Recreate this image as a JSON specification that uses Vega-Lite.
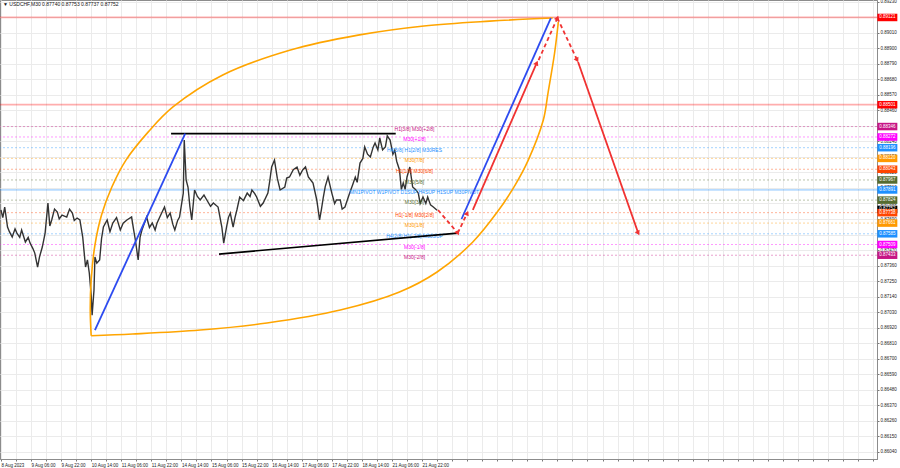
{
  "$schema": "https://vega.github.io/schema/vega-lite/v6.json",
  "width": 877,
  "height": 459,
  "autosize": "none",
  "padding": {"left": 0, "top": 0, "right": 23, "bottom": 9},
  "background": "white",
  "config": {"font": "Liberation Sans", "view": {"stroke": "#8c8c8c", "strokeWidth": 1}, "axis": {"labelOverlap": false, "labelFlush": false, "labelBound": false}},
  "title": {"text": "▼ USDCHF,M30  0.87740 0.87753 0.87737 0.87752", "anchor": "start", "frame": "group", "orient": "top", "offset": -8, "dx": 3, "fontSize": 5, "fontWeight": "normal", "color": "#111"},
  "datasets": {
    "levels": [
      {"price": 0.89120, "tag": "0.89121", "grp": "SR", "name": ""},
      {"price": 0.88501, "tag": "0.88501", "grp": "SR", "name": ""},
      {"price": 0.88346, "tag": "0.88346", "grp": "R2", "name": "H1[3/8] M30[+2/8]"},
      {"price": 0.88272, "tag": "0.88272", "grp": "R1", "name": "M30[+1/8]"},
      {"price": 0.88196, "tag": "0.88196", "grp": "RES", "name": "H4[3/8] H1[2/8] M30RES"},
      {"price": 0.88120, "tag": "0.88120", "grp": "L7", "name": "M30[7/8]"},
      {"price": 0.88043, "tag": "0.88043", "grp": "L6", "name": "H1[1/8] M30[6/8]"},
      {"price": 0.87967, "tag": "0.87967", "grp": "L5", "name": "M30[5/8]"},
      {"price": 0.87896, "tag": "0.87891", "grp": "PIV", "name": "MN1PIVOT W1PIVOT D1SUP H4SUP H1SUP M30PIVOT"},
      {"price": 0.87824, "tag": "0.87824", "grp": "L3", "name": "M30[3/8]"},
      {"price": 0.87758, "tag": "0.87752", "grp": "PRICE", "name": ""},
      {"price": 0.87735, "tag": "0.87738", "grp": "L2", "name": "H1[-1/8] M30[2/8]"},
      {"price": 0.87661, "tag": "0.87661", "grp": "L1", "name": "M30[1/8]"},
      {"price": 0.87585, "tag": "0.87585", "grp": "SUP", "name": "H4[2/8] H1[-2/8] M30SUP"},
      {"price": 0.87509, "tag": "0.87509", "grp": "S1", "name": "M30[-1/8]"},
      {"price": 0.87433, "tag": "0.87433", "grp": "S2", "name": "M30[-2/8]"}
    ],
    "quotes": [
      {"i": 0, "p": 0.87754}, {"i": 2, "p": 0.87700}, {"i": 4, "p": 0.87775}, {"i": 7, "p": 0.87633}, {"i": 9, "p": 0.87600}, {"i": 12, "p": 0.87562},
      {"i": 15, "p": 0.87620}, {"i": 17, "p": 0.87590}, {"i": 20, "p": 0.87560}, {"i": 22, "p": 0.87612}, {"i": 26, "p": 0.87527}, {"i": 29, "p": 0.87560}, {"i": 31, "p": 0.87519},
      {"i": 34, "p": 0.87480}, {"i": 36, "p": 0.87448}, {"i": 39, "p": 0.87349}, {"i": 41, "p": 0.87420}, {"i": 44, "p": 0.87491}, {"i": 47, "p": 0.87590},
      {"i": 50, "p": 0.87803}, {"i": 52, "p": 0.87640}, {"i": 54, "p": 0.87683}, {"i": 57, "p": 0.87760}, {"i": 60, "p": 0.87739}, {"i": 62, "p": 0.87690}, {"i": 65, "p": 0.87718},
      {"i": 70, "p": 0.87704}, {"i": 73, "p": 0.87760}, {"i": 76, "p": 0.87732}, {"i": 78, "p": 0.87680}, {"i": 81, "p": 0.87697}, {"i": 84, "p": 0.87683},
      {"i": 87, "p": 0.87562}, {"i": 90, "p": 0.87349}, {"i": 92, "p": 0.87400}, {"i": 94, "p": 0.87307}, {"i": 96, "p": 0.87150}, {"i": 97, "p": 0.87008},
      {"i": 99, "p": 0.87186}, {"i": 100, "p": 0.87420}, {"i": 102, "p": 0.87377}, {"i": 105, "p": 0.87399}, {"i": 107, "p": 0.87550}, {"i": 109, "p": 0.87633},
      {"i": 113, "p": 0.87683}, {"i": 116, "p": 0.87600}, {"i": 119, "p": 0.87661}, {"i": 123, "p": 0.87700}, {"i": 127, "p": 0.87612}, {"i": 130, "p": 0.87660}, {"i": 134, "p": 0.87683},
      {"i": 139, "p": 0.87704}, {"i": 141, "p": 0.87620}, {"i": 143, "p": 0.87541}, {"i": 146, "p": 0.87399}, {"i": 148, "p": 0.87560}, {"i": 150, "p": 0.87612},
      {"i": 155, "p": 0.87704}, {"i": 158, "p": 0.87630}, {"i": 161, "p": 0.87661}, {"i": 164, "p": 0.87612}, {"i": 166, "p": 0.87660}, {"i": 169, "p": 0.87704},
      {"i": 174, "p": 0.87775}, {"i": 177, "p": 0.87700}, {"i": 180, "p": 0.87732}, {"i": 183, "p": 0.87650}, {"i": 185, "p": 0.87612}, {"i": 188, "p": 0.87680}, {"i": 190, "p": 0.87704},
      {"i": 194, "p": 0.87874}, {"i": 195, "p": 0.88250}, {"i": 197, "p": 0.87967}, {"i": 199, "p": 0.87917},
      {"i": 201, "p": 0.87780}, {"i": 203, "p": 0.87683}, {"i": 206, "p": 0.87896}, {"i": 209, "p": 0.87850}, {"i": 212, "p": 0.87825}, {"i": 216, "p": 0.87860}, {"i": 219, "p": 0.87825},
      {"i": 223, "p": 0.87780}, {"i": 226, "p": 0.87803}, {"i": 231, "p": 0.87775}, {"i": 235, "p": 0.87633}, {"i": 237, "p": 0.87519},
      {"i": 240, "p": 0.87633}, {"i": 242, "p": 0.87700}, {"i": 244, "p": 0.87732}, {"i": 247, "p": 0.87633}, {"i": 249, "p": 0.87700}, {"i": 251, "p": 0.87754},
      {"i": 254, "p": 0.87846}, {"i": 258, "p": 0.87820}, {"i": 262, "p": 0.87874}, {"i": 265, "p": 0.87850}, {"i": 267, "p": 0.87896}, {"i": 270, "p": 0.87870}, {"i": 272, "p": 0.87846},
      {"i": 276, "p": 0.87780}, {"i": 279, "p": 0.87803}, {"i": 284, "p": 0.87874}, {"i": 286, "p": 0.87960}, {"i": 288, "p": 0.88059}, {"i": 291, "p": 0.88108},
      {"i": 294, "p": 0.87980}, {"i": 297, "p": 0.87896}, {"i": 302, "p": 0.87917}, {"i": 304, "p": 0.87980}, {"i": 307, "p": 0.87988}, {"i": 311, "p": 0.88040}, {"i": 315, "p": 0.88059},
      {"i": 318, "p": 0.88000}, {"i": 321, "p": 0.88038}, {"i": 324, "p": 0.88060}, {"i": 327, "p": 0.87988}, {"i": 332, "p": 0.87945}, {"i": 336, "p": 0.87825},
      {"i": 339, "p": 0.87683}, {"i": 341, "p": 0.87760}, {"i": 343, "p": 0.87846}, {"i": 345, "p": 0.87920}, {"i": 348, "p": 0.87988}, {"i": 350, "p": 0.87930}, {"i": 352, "p": 0.87874},
      {"i": 355, "p": 0.87800}, {"i": 357, "p": 0.87825}, {"i": 361, "p": 0.87825}, {"i": 363, "p": 0.87760}, {"i": 366, "p": 0.87775}, {"i": 371, "p": 0.87874},
      {"i": 374, "p": 0.87930}, {"i": 377, "p": 0.87988}, {"i": 379, "p": 0.87950}, {"i": 382, "p": 0.88087}, {"i": 385, "p": 0.88120}, {"i": 387, "p": 0.88201}, {"i": 390, "p": 0.88150}, {"i": 393, "p": 0.88130},
      {"i": 396, "p": 0.88200}, {"i": 398, "p": 0.88229}, {"i": 401, "p": 0.88180}, {"i": 403, "p": 0.88265}, {"i": 406, "p": 0.88180}, {"i": 409, "p": 0.88201}, {"i": 411, "p": 0.88280}, {"i": 414, "p": 0.88250},
      {"i": 417, "p": 0.88150}, {"i": 419, "p": 0.88179}, {"i": 421, "p": 0.88100}, {"i": 424, "p": 0.88038}, {"i": 426, "p": 0.87900}, {"i": 428, "p": 0.87945}, {"i": 430, "p": 0.87900}, {"i": 432, "p": 0.87988},
      {"i": 435, "p": 0.88059}, {"i": 438, "p": 0.87917}, {"i": 441, "p": 0.87900}, {"i": 444, "p": 0.87874}, {"i": 446, "p": 0.87800}, {"i": 449, "p": 0.87846},
      {"i": 452, "p": 0.87800}, {"i": 454, "p": 0.87846}, {"i": 457, "p": 0.87790}, {"i": 460, "p": 0.87775}, {"i": 464, "p": 0.87752}
    ],
    "arc": [
      {"part": "upper", "k": 1, "i": 587, "p": 0.89116}, {"part": "upper", "k": 2, "i": 520, "p": 0.89094}, {"part": "upper", "k": 3, "i": 450, "p": 0.89060},
      {"part": "upper", "k": 4, "i": 380, "p": 0.88995}, {"part": "upper", "k": 5, "i": 308, "p": 0.88889}, {"part": "upper", "k": 6, "i": 236, "p": 0.88712},
      {"part": "upper", "k": 7, "i": 183, "p": 0.88485}, {"part": "upper", "k": 8, "i": 157, "p": 0.88310}, {"part": "upper", "k": 9, "i": 133, "p": 0.88108},
      {"part": "upper", "k": 10, "i": 118, "p": 0.87917}, {"part": "upper", "k": 11, "i": 107, "p": 0.87718}, {"part": "upper", "k": 12, "i": 100, "p": 0.87505},
      {"part": "upper", "k": 13, "i": 96, "p": 0.87257}, {"part": "upper", "k": 14, "i": 95, "p": 0.87044}, {"part": "upper", "k": 15, "i": 96, "p": 0.86862},
      {"part": "lower", "k": 15, "i": 96, "p": 0.86862},
      {"part": "lower", "k": 16, "i": 140, "p": 0.86874}, {"part": "lower", "k": 17, "i": 212, "p": 0.86902}, {"part": "lower", "k": 18, "i": 283, "p": 0.86952},
      {"part": "lower", "k": 19, "i": 361, "p": 0.87044}, {"part": "lower", "k": 20, "i": 424, "p": 0.87172}, {"part": "lower", "k": 21, "i": 464, "p": 0.87314},
      {"part": "lower", "k": 22, "i": 502, "p": 0.87527}, {"part": "lower", "k": 23, "i": 528, "p": 0.87739}, {"part": "lower", "k": 24, "i": 547, "p": 0.87931},
      {"part": "lower", "k": 25, "i": 561, "p": 0.88108}, {"part": "lower", "k": 26, "i": 577, "p": 0.88392}, {"part": "lower", "k": 27, "i": 582, "p": 0.88584},
      {"part": "lower", "k": 28, "i": 589, "p": 0.88868}, {"part": "lower", "k": 29, "i": 593, "p": 0.89088}
    ],
    "channel": [
      {"id": "top", "i": 181, "p": 0.88296}, {"id": "top", "i": 420, "p": 0.88296},
      {"id": "bottom", "i": 232, "p": 0.87441}, {"id": "bottom", "i": 486, "p": 0.87590}
    ],
    "waves": [
      {"id": "w1", "i": 100, "p": 0.86902}, {"id": "w1", "i": 196, "p": 0.88296},
      {"id": "w3", "i": 490, "p": 0.87690}, {"id": "w3", "i": 585, "p": 0.89116}
    ],
    "forecast": [
      {"leg": "A", "kind": "minor", "i": 465, "p": 0.87754}, {"leg": "A", "kind": "minor", "i": 486, "p": 0.87590},
      {"leg": "B", "kind": "minor", "i": 486, "p": 0.87590}, {"leg": "B", "kind": "minor", "i": 496, "p": 0.87732},
      {"leg": "C", "kind": "major", "i": 502, "p": 0.87754}, {"leg": "C", "kind": "major", "i": 570, "p": 0.88797},
      {"leg": "D", "kind": "minor", "i": 572, "p": 0.88818}, {"leg": "D", "kind": "minor", "i": 592, "p": 0.89116},
      {"leg": "E", "kind": "minor", "i": 592, "p": 0.89116}, {"leg": "E", "kind": "minor", "i": 613, "p": 0.88818},
      {"leg": "F", "kind": "major", "i": 614, "p": 0.88804}, {"leg": "F", "kind": "major", "i": 678, "p": 0.87590}
    ],
    "heads": [
      {"dir": "down", "i": 486, "p": 0.87590}, {"dir": "up", "i": 496, "p": 0.87732},
      {"dir": "up", "i": 570, "p": 0.88797}, {"dir": "up", "i": 592, "p": 0.89116},
      {"dir": "down", "i": 613, "p": 0.88818}, {"dir": "down", "i": 678, "p": 0.87590}
    ]
  },
  "layer": [
    {
      "data": {"name": "levels"},
      "transform": [{"filter": "datum.grp != 'SR' && datum.grp != 'PIV' && datum.grp != 'PRICE'"}],
      "mark": {"type": "rule", "strokeDash": [2, 2], "strokeWidth": 1, "opacity": 0.4},
      "encoding": {
        "y": {
          "field": "price", "type": "quantitative", "title": null,
          "scale": {"domain": [0.85987, 0.89244], "zero": false, "nice": false},
          "axis": {
            "orient": "right", "title": null, "format": ".5f", "tickCount": 200,
            "values": [0.8604, 0.8615, 0.8626, 0.8637, 0.8648, 0.8659, 0.867, 0.8681, 0.8692, 0.8703, 0.8714, 0.8725, 0.8736, 0.8747, 0.8758, 0.8769, 0.878, 0.8791, 0.8802, 0.8813, 0.8824, 0.8835, 0.8846, 0.8857, 0.8868, 0.8879, 0.889, 0.8901, 0.8912, 0.8923],
            "labelFontSize": 4.5, "labelColor": "#222", "labelPadding": 1, "tickSize": 2, "tickColor": "#777",
            "domainColor": "#8c8c8c", "grid": true, "gridColor": "#ebebeb", "gridWidth": 1, "labelOverlap": false, "labelFlush": false
          }
        },
        "color": {
          "field": "grp", "type": "nominal", "legend": null,
          "scale": {
            "domain": ["SR", "R2", "R1", "RES", "L7", "L6", "L5", "PIV", "L3", "L2", "L1", "SUP", "S1", "S2", "PRICE"],
            "range": ["#ff0000", "#c71585", "#ff00ff", "#1e90ff", "#ff9900", "#ff4500", "#556b2f", "#1e90ff", "#556b2f", "#ff4500", "#ff9900", "#1e90ff", "#ff00ff", "#c71585", "#000000"]
          }
        }
      }
    },
    {
      "data": {"name": "levels"},
      "transform": [{"filter": "datum.grp == 'SR' || datum.grp == 'PIV'"}],
      "mark": {"type": "rule", "strokeWidth": 1.8, "opacity": 0.32},
      "encoding": {
        "y": {"field": "price", "type": "quantitative", "title": null},
        "color": {"field": "grp", "type": "nominal", "legend": null}
      }
    },
    {
      "data": {"name": "quotes"},
      "mark": {"type": "line", "color": "#333333", "strokeWidth": 1.4},
      "encoding": {
        "x": {
          "field": "i", "type": "quantitative", "title": null,
          "scale": {"domain": [-1, 932], "zero": false, "nice": false},
          "axis": {
            "orient": "bottom", "title": null, "tickCount": 200,
            "values": [0, 16, 32, 48, 64, 80, 96, 112, 128, 144, 160, 176, 192, 208, 224, 240, 256, 272, 288, 304, 320, 336, 352, 368, 384, 400, 416, 432, 448, 464, 480, 496, 512, 528, 544, 560, 576, 592, 608, 624, 640, 656, 672, 688, 704, 720, 736, 752, 768, 784, 800, 816, 832, 848, 864, 880, 896, 912, 928],
            "labelExpr": "(datum.value % 32 == 0 && datum.value / 32 < 15) ? ['8 Aug 2023','9 Aug 06:00','9 Aug 22:00','10 Aug 14:00','11 Aug 06:00','11 Aug 22:00','14 Aug 14:00','15 Aug 06:00','15 Aug 22:00','16 Aug 14:00','17 Aug 06:00','17 Aug 22:00','18 Aug 14:00','21 Aug 06:00','21 Aug 22:00'][datum.value / 32] : ''",
            "labelAlign": "left", "labelBaseline": "top", "labelFontSize": 4.5, "labelColor": "#222", "labelPadding": 1,
            "tickSize": 2, "tickColor": "#777", "domainColor": "#8c8c8c", "grid": true, "gridColor": "#ebebeb",
            "labelOverlap": false, "labelFlush": false
          }
        },
        "y": {"field": "p", "type": "quantitative", "title": null}
      }
    },
    {
      "data": {"name": "levels"},
      "transform": [{"filter": "datum.name != ''"}],
      "mark": {"type": "text", "fontSize": 5, "align": "center", "baseline": "middle", "dy": 2},
      "encoding": {
        "x": {"datum": 440, "type": "quantitative", "title": null},
        "y": {"field": "price", "type": "quantitative", "title": null},
        "text": {"field": "name"},
        "color": {"field": "grp", "type": "nominal", "legend": null}
      }
    },
    {
      "data": {"name": "arc"},
      "mark": {"type": "line", "color": "#ffa500", "strokeWidth": 1.6, "interpolate": "catmull-rom"},
      "encoding": {
        "x": {"field": "i", "type": "quantitative", "title": null},
        "y": {"field": "p", "type": "quantitative", "title": null},
        "detail": {"field": "part", "type": "nominal"},
        "order": {"field": "k", "type": "quantitative"}
      }
    },
    {
      "data": {"name": "channel"},
      "mark": {"type": "line", "color": "#000000", "strokeWidth": 1.6},
      "encoding": {
        "x": {"field": "i", "type": "quantitative", "title": null},
        "y": {"field": "p", "type": "quantitative", "title": null},
        "detail": {"field": "id", "type": "nominal"}
      }
    },
    {
      "data": {"name": "waves"},
      "mark": {"type": "line", "color": "#2d4bf0", "strokeWidth": 1.8},
      "encoding": {
        "x": {"field": "i", "type": "quantitative", "title": null},
        "y": {"field": "p", "type": "quantitative", "title": null},
        "detail": {"field": "id", "type": "nominal"}
      }
    },
    {
      "data": {"name": "forecast"},
      "mark": {"type": "line", "color": "#f03232", "strokeWidth": 1.8},
      "encoding": {
        "x": {"field": "i", "type": "quantitative", "title": null},
        "y": {"field": "p", "type": "quantitative", "title": null},
        "detail": {"field": "leg", "type": "nominal"},
        "strokeDash": {"field": "kind", "type": "nominal", "legend": null, "scale": {"domain": ["major", "minor"], "range": [[1, 0], [4, 3]]}}
      }
    },
    {
      "data": {"name": "heads"},
      "transform": [{"filter": "datum.dir == 'up'"}],
      "mark": {"type": "point", "shape": "triangle-up", "filled": true, "color": "#f03232", "size": 30, "angle": 24, "opacity": 1},
      "encoding": {
        "x": {"field": "i", "type": "quantitative", "title": null},
        "y": {"field": "p", "type": "quantitative", "title": null}
      }
    },
    {
      "data": {"name": "heads"},
      "transform": [{"filter": "datum.dir == 'down'"}],
      "mark": {"type": "point", "shape": "triangle-down", "filled": true, "color": "#f03232", "size": 30, "angle": -28, "opacity": 1},
      "encoding": {
        "x": {"field": "i", "type": "quantitative", "title": null},
        "y": {"field": "p", "type": "quantitative", "title": null}
      }
    },
    {
      "data": {"name": "levels"},
      "mark": {"type": "tick", "orient": "horizontal", "size": 20, "thickness": 7.5, "opacity": 1},
      "encoding": {
        "x": {"datum": 943, "type": "quantitative", "title": null},
        "y": {"field": "price", "type": "quantitative", "title": null},
        "color": {"field": "grp", "type": "nominal", "legend": null}
      }
    },
    {
      "data": {"name": "levels"},
      "mark": {"type": "text", "fontSize": 4.5, "align": "center", "baseline": "middle", "color": "white"},
      "encoding": {
        "x": {"datum": 943, "type": "quantitative", "title": null},
        "y": {"field": "price", "type": "quantitative", "title": null},
        "text": {"field": "tag"}
      }
    }
  ]
}
